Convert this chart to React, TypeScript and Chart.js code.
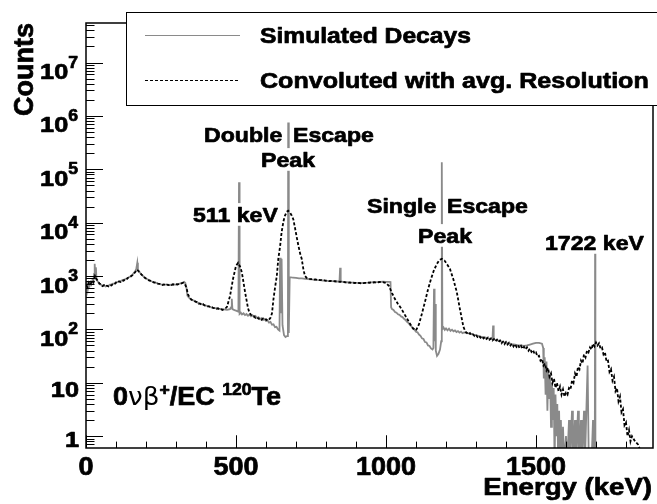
import React, { useEffect, useRef } from "react";
import { Chart, registerables } from "chart.js";

Chart.register(...registerables);

// ---- data (energy keV, counts) ----
const simulatedDecays: [number, number][] = [
  [0, 620], [3, 780], [6, 560], [9, 720], [12, 650], [15, 760], [18, 700], [21, 820], [24, 760],
  [27, 1100], [29, 1700], [31, 900], [33, 1450], [35, 850], [40, 780], [45, 700], [50, 690],
  [55, 650], [60, 670], [65, 640], [70, 655], [75, 660], [80, 690], [85, 700], [90, 720],
  [95, 730], [100, 760], [105, 770], [110, 790], [115, 800], [120, 830], [125, 850], [130, 870],
  [135, 900], [140, 930], [145, 960], [150, 1000], [155, 1060], [160, 1150], [165, 1250],
  [168, 1400], [171, 1770], [173, 1300], [176, 1250], [180, 1150], [185, 1070], [190, 1000],
  [195, 950], [200, 900], [210, 840], [220, 790], [230, 760], [240, 720], [250, 700], [260, 690],
  [270, 690], [280, 680], [290, 700], [300, 690], [310, 710], [320, 740], [327, 780], [331, 740],
  [335, 600], [338, 430], [342, 400], [350, 360], [360, 345], [370, 320], [380, 305], [390, 290],
  [400, 280], [410, 270], [420, 255], [430, 250], [440, 245], [450, 240], [460, 238], [470, 232],
  [480, 240], [484, 260], [486, 375], [488, 240], [495, 230], [500, 225], [508, 215],
  [510, 57000], [512, 195], [516, 205], [520, 190], [525, 200], [530, 185], [535, 194],
  [540, 180], [545, 190], [550, 176], [555, 184], [560, 170], [565, 178], [570, 164], [575, 170],
  [580, 156], [585, 162], [590, 150], [595, 156], [600, 144], [605, 148], [610, 134], [615, 138],
  [620, 122], [625, 124], [630, 110], [635, 112], [640, 100],
  [645, 95], [647, 2200], [649, 200], [652, 2100], [655, 120], [660, 78], [665, 72], [670, 75],
  [673, 80], [674, 750000], [676, 86], [679, 950], [685, 940], [690, 935], [700, 925], [710, 905],
  [720, 900], [730, 885], [740, 880], [750, 865], [760, 860], [770, 845], [780, 840], [790, 825],
  [800, 820], [810, 805], [820, 800], [830, 795], [840, 790], [845, 800], [847, 1430], [849, 790],
  [860, 770], [870, 765], [880, 755], [890, 750], [900, 745], [910, 740], [920, 740], [930, 745],
  [940, 750], [950, 760], [960, 765], [970, 770], [980, 780], [990, 785], [1000, 780],
  [1010, 775], [1015, 770], [1017, 260], [1020, 240], [1025, 232], [1030, 212], [1035, 206],
  [1040, 192], [1045, 188], [1050, 175], [1055, 170], [1060, 158], [1065, 150], [1070, 138],
  [1075, 132], [1080, 120], [1085, 114], [1090, 103], [1095, 99], [1100, 90], [1105, 88],
  [1110, 80], [1115, 76], [1120, 68], [1125, 66], [1130, 58], [1135, 57], [1140, 50], [1145, 49],
  [1150, 44], [1155, 42], [1158, 45], [1160, 575], [1162, 60],
  [1164, 300], [1166, 40], [1170, 32], [1175, 35], [1180, 42], [1184, 60], [1186, 136000],
  [1188, 100], [1192, 108], [1196, 98], [1200, 104], [1205, 96], [1210, 103], [1215, 94],
  [1220, 99], [1225, 92], [1230, 96], [1235, 89], [1240, 93], [1245, 87], [1250, 91], [1255, 85],
  [1260, 88], [1270, 85], [1280, 83], [1290, 80], [1300, 78], [1310, 75], [1320, 72],
  [1330, 71], [1340, 68], [1350, 66], [1355, 66], [1357, 118], [1359, 65], [1370, 62], [1380, 60],
  [1390, 58], [1400, 56], [1410, 55], [1420, 53], [1430, 52], [1440, 50], [1450, 50], [1460, 49],
  [1470, 50], [1480, 52], [1490, 54], [1500, 56], [1510, 56], [1520, 54], [1524, 45], [1526, 12],
  [1529, 30], [1532, 6], [1535, 25], [1538, 3], [1541, 18], [1544, 5], [1547, 14], [1550, 1.5],
  [1553, 10], [1556, 2], [1559, 8], [1562, 0.3], [1565, 6], [1568, 1], [1571, 4], [1574, 0.3],
  [1577, 3], [1580, 0.3], [1583, 2], [1586, 0.3], [1590, 1.5], [1594, 0.3], [1600, 1],
  [1604, 0.3], [1610, 2], [1613, 0.3], [1620, 3], [1623, 0.3], [1630, 2], [1633, 0.3],
  [1640, 3], [1643, 0.3], [1650, 2], [1653, 0.3], [1660, 3], [1663, 0.3], [1672, 21],
  [1676, 0.3], [1685, 0.3], [1690, 2], [1693, 0.3], [1696, 0.3], [1697, 5000], [1698, 0.3],
  [1890, 0.3],
];

const convolutedDecays: [number, number][] = [
  [0, 680], [5, 620], [10, 760], [15, 700], [20, 820], [25, 760], [30, 1000], [35, 880],
  [40, 800], [45, 720], [50, 700], [55, 650], [60, 675], [65, 640], [70, 660], [75, 640],
  [80, 680], [85, 665], [90, 710], [95, 700], [100, 755], [105, 740], [110, 790], [115, 775],
  [120, 830], [125, 815], [130, 870], [135, 860], [140, 930], [145, 940], [150, 990], [155, 1040],
  [160, 1120], [165, 1200], [170, 1320], [175, 1230], [180, 1160], [185, 1060], [190, 1010],
  [195, 940], [200, 900], [205, 870], [210, 830], [215, 815], [220, 800], [225, 760], [230, 750],
  [235, 730], [240, 720], [245, 715], [250, 705], [255, 680], [260, 695], [265, 670], [270, 690],
  [275, 675], [280, 695], [285, 680], [290, 700], [295, 690], [300, 705], [305, 695], [310, 715],
  [315, 720], [320, 735], [325, 745], [330, 700], [335, 600], [340, 450], [345, 400], [350, 370],
  [355, 350], [360, 345], [365, 330], [370, 325], [375, 305], [380, 305], [385, 290], [390, 298],
  [395, 282], [400, 278], [405, 270], [410, 270], [415, 258], [420, 260], [425, 250], [430, 253],
  [435, 244], [440, 248], [445, 236], [450, 240], [455, 232], [460, 242], [465, 248], [470, 265],
  [480, 420], [490, 880], [500, 1550], [507, 1770], [515, 1450], [520, 1130], [530, 510],
  [540, 250], [545, 205], [550, 188], [555, 175], [560, 176], [565, 165], [570, 170], [575, 158],
  [580, 162], [585, 152], [590, 160], [595, 150], [600, 155], [605, 146], [610, 152], [615, 165],
  [620, 200], [625, 375], [630, 600], [636, 1000], [641, 2100], [647, 3600],
  [652, 6600], [658, 10500], [663, 13400], [669, 16000], [674, 16700], [680, 15500],
  [686, 13500], [691, 11600], [697, 7800], [702, 5500], [708, 3700], [714, 2600], [719, 2100],
  [725, 1300], [730, 1000], [735, 930], [740, 900], [745, 885], [750, 872], [755, 880],
  [760, 855], [765, 862], [770, 848], [775, 852], [780, 835], [785, 840], [790, 828], [795, 832],
  [800, 815], [805, 822], [810, 806], [815, 812], [820, 795], [825, 805], [830, 798], [835, 790],
  [840, 786], [845, 778], [850, 782], [855, 768], [860, 772], [865, 758], [870, 762], [875, 752],
  [880, 760], [885, 745], [890, 752], [895, 740], [900, 745], [905, 735], [910, 742], [915, 732],
  [920, 740], [925, 736], [930, 745], [935, 740], [940, 750], [945, 748], [950, 757], [955, 752],
  [960, 764], [965, 758], [970, 770], [975, 765], [980, 776], [985, 768], [990, 770], [995, 755],
  [1000, 740], [1010, 650], [1020, 480], [1030, 370], [1040, 300], [1050, 250], [1060, 200],
  [1070, 160], [1080, 127], [1090, 105], [1100, 96], [1110, 125], [1120, 200], [1130, 330],
  [1140, 560], [1150, 880], [1160, 1300], [1170, 1700], [1178, 2000], [1186, 2100], [1195, 1950],
  [1204, 1650], [1213, 1370], [1225, 850], [1236, 500], [1247, 230], [1258, 112], [1265, 90],
  [1270, 86], [1275, 80], [1280, 85], [1285, 78], [1290, 81], [1295, 75], [1300, 79], [1305, 72],
  [1310, 76], [1315, 70], [1320, 74], [1325, 68], [1330, 72], [1335, 66], [1340, 70], [1345, 64],
  [1350, 68], [1355, 62], [1360, 66], [1365, 60], [1370, 64], [1375, 58], [1380, 62], [1385, 55],
  [1390, 59], [1395, 53], [1400, 58], [1405, 52], [1410, 56], [1415, 50], [1420, 54], [1425, 48],
  [1430, 53], [1435, 47], [1440, 51], [1445, 45], [1450, 49], [1455, 43], [1460, 47], [1465, 42],
  [1470, 46], [1475, 40], [1480, 44], [1485, 38], [1490, 41], [1495, 35], [1500, 37], [1505, 31],
  [1510, 32], [1515, 26], [1520, 28], [1525, 21], [1530, 23], [1535, 17], [1540, 19], [1545, 13],
  [1550, 15], [1555, 10], [1560, 12], [1565, 8], [1570, 10], [1575, 7], [1580, 8.5], [1585, 6],
  [1590, 7.5], [1595, 5.5], [1600, 6.5], [1605, 6], [1610, 8], [1615, 7.5], [1620, 11],
  [1625, 10], [1630, 15], [1635, 13], [1640, 20], [1645, 18], [1650, 26], [1655, 23], [1660, 34],
  [1665, 30], [1670, 40], [1675, 37], [1680, 46], [1685, 42], [1690, 54], [1695, 48], [1700, 57],
  [1705, 50], [1710, 55], [1715, 44], [1720, 46], [1725, 34], [1730, 37], [1735, 25], [1740, 26],
  [1745, 16], [1750, 18], [1755, 11], [1760, 13], [1765, 7], [1770, 8], [1775, 4.5], [1780, 5.5],
  [1785, 2.8], [1790, 3.2], [1795, 1.6], [1800, 1.8], [1805, 1.0], [1810, 1.3], [1815, 0.8],
  [1820, 1.0], [1830, 0.8], [1840, 0.7], [1850, 0.5],
];

const legendLabels = ["Simulated Decays", "Convoluted with avg. Resolution"];
const xTickLabels = [0, 500, 1000, 1500];
const xMinorTicks = [100, 200, 300, 400, 600, 700, 800, 900, 1100, 1200, 1300, 1400, 1600, 1700, 1800];
const yTickExponents = [0, 1, 2, 3, 4, 5, 6, 7];
const xTitle = "Energy (keV)";
const yTitle = "Counts";
const xRange = [0, 1890];
const yRange = [0.64, 5.5e7];

const FONT = '"Liberation Sans", Arial, Helvetica, sans-serif';
const GRAY = "#8a8a8a";

function drawText(
  ctx: CanvasRenderingContext2D,
  s: string,
  x: number,
  y: number,
  size: number,
  align: "left" | "right" | "center" = "left",
  sx = 1.1,
  weight = "bold",
  family = FONT,
  bg = false
): number {
  ctx.save();
  ctx.font = `${weight} ${size}px ${family}`;
  ctx.textBaseline = "alphabetic";
  ctx.textAlign = "left";
  const w = ctx.measureText(s).width * sx;
  const x0 = align === "left" ? x : align === "right" ? x - w : x - w / 2;
  if (bg) {
    ctx.fillStyle = "#fff";
    ctx.fillRect(x0 - 1, y - size * 0.9, w + 2, size * 1.08);
  }
  ctx.translate(x0, y);
  ctx.scale(sx, 1);
  ctx.fillStyle = "#000";
  ctx.fillText(s, 0, 0);
  if (weight === "bold") {
    ctx.strokeStyle = "#000";
    ctx.lineWidth = 0.7;
    ctx.lineJoin = "round";
    ctx.strokeText(s, 0, 0);
  }
  ctx.restore();
  return w;
}

const decor = {
  id: "rootDecor",
  afterDraw(chart: any) {
    const ctx: CanvasRenderingContext2D = chart.ctx;
    const { left, right, top, bottom } = chart.chartArea;
    const xs = chart.scales.x;
    const ys = chart.scales.y;
    ctx.save();
    ctx.strokeStyle = "#000";
    ctx.lineWidth = 1.5;
    ctx.strokeRect(left, top, right - left, bottom - top);

    // x ticks (inward)
    ctx.lineWidth = 1;
    ctx.beginPath();
    for (const v of xTickLabels) {
      const px = Math.round(xs.getPixelForValue(v)) + 0.5;
      ctx.moveTo(px, bottom);
      ctx.lineTo(px, bottom - 12.75);
    }
    for (const v of xMinorTicks) {
      const px = Math.round(xs.getPixelForValue(v)) + 0.5;
      ctx.moveTo(px, bottom);
      ctx.lineTo(px, bottom - 6.4);
    }
    // y ticks
    for (const e of [-1, ...yTickExponents]) {
      for (let m = 1; m <= 9; m++) {
        const v = m * Math.pow(10, e);
        if (v < yRange[0] || v > yRange[1]) continue;
        const py = Math.round(ys.getPixelForValue(v)) + 0.5;
        ctx.moveTo(left, py);
        ctx.lineTo(left + (m === 1 ? 17 : 8.5), py);
      }
    }
    ctx.stroke();

    // x labels
    for (const v of xTickLabels) {
      drawText(ctx, String(v), xs.getPixelForValue(v), 475, 25, "center", 1.08);
    }
    // y labels
    for (const e of yTickExponents) {
      const py = ys.getPixelForValue(Math.pow(10, e));
      if (e === 0) drawText(ctx, "1", 79, py + 11, 22, "right", 1.15);
      else if (e === 1) drawText(ctx, "10", 79, py + 14, 22, "right", 1.15);
      else {
        const w = drawText(ctx, String(e), 78, py + 5, 16, "right", 1.1);
        drawText(ctx, "10", 78 - w, py + 16.5, 22, "right", 1.15);
      }
    }
    // axis titles
    drawText(ctx, xTitle, 652, 495, 24, "right", 1.15);
    ctx.save();
    ctx.translate(33, 23);
    ctx.rotate(-Math.PI / 2);
    ctx.font = `bold 27px ${FONT}`;
    ctx.textAlign = "right";
    ctx.fillStyle = "#000";
    ctx.fillText(yTitle, 0, 0);
    ctx.strokeStyle = "#000";
    ctx.lineWidth = 0.7;
    ctx.strokeText(yTitle, 0, 0);
    ctx.restore();

    // annotations
    drawText(ctx, "511 keV", 193, 222, 21, "left", 1.1, "bold", FONT, true);
    drawText(ctx, "Double", 204, 142, 21, "left", 1.1, "bold", FONT, true);
    drawText(ctx, "Escape", 293, 142, 21, "left", 1.1, "bold", FONT, true);
    drawText(ctx, "Peak", 288, 167, 21, "center", 1.1, "bold", FONT, true);
    drawText(ctx, "Single", 367, 213, 21, "left", 1.1, "bold", FONT, true);
    drawText(ctx, "Escape", 447, 213, 21, "left", 1.1, "bold", FONT, true);
    drawText(ctx, "Peak", 445, 243, 21, "center", 1.1, "bold", FONT, true);
    drawText(ctx, "1722 keV", 545, 250, 21, "left", 1.1, "bold", FONT, true);

    // process label
    let cx = 113;
    const by = 405;
    cx += drawText(ctx, "0", cx, by, 25, "left", 1.08);
    cx += drawText(ctx, "νβ", cx, by, 25, "left", 1.05, "normal", '"DejaVu Sans", sans-serif');
    cx += drawText(ctx, "+", cx, by - 10, 16, "left", 1.1);
    cx += drawText(ctx, "/EC ", cx, by, 25, "left", 1.08);
    cx += drawText(ctx, "120", cx, by - 10, 16, "left", 1.1);
    drawText(ctx, "Te", cx, by, 25, "left", 1.08);

    // legend
    ctx.fillStyle = "#fff";
    ctx.fillRect(126, 12, 540, 93);
    ctx.strokeStyle = "#000";
    ctx.lineWidth = 1;
    ctx.strokeRect(126.5, 12.5, 540, 93);
    ctx.beginPath();
    ctx.strokeStyle = GRAY;
    ctx.moveTo(145, 35.5);
    ctx.lineTo(240, 35.5);
    ctx.stroke();
    ctx.beginPath();
    ctx.strokeStyle = "#000";
    ctx.setLineDash([3, 2]);
    ctx.moveTo(145, 80.5);
    ctx.lineTo(240, 80.5);
    ctx.stroke();
    ctx.setLineDash([]);
    drawText(ctx, legendLabels[0], 260, 43, 22, "left", 1.12);
    drawText(ctx, legendLabels[1], 260, 88, 22, "left", 1.14);
    ctx.restore();
  },
};

export default function App() {
  const ref = useRef<HTMLCanvasElement>(null);
  useEffect(() => {
    document.body.style.margin = "0";
    const chart = new Chart(ref.current as HTMLCanvasElement, {
      type: "line",
      data: {
        datasets: [
          {
            label: legendLabels[1],
            data: convolutedDecays.map(([x, y]) => ({ x, y })),
            borderColor: "#000",
            borderWidth: 1.8,
            borderDash: [3, 2],
            pointRadius: 0,
            fill: false,
            tension: 0,
            order: 0,
          },
          {
            label: legendLabels[0],
            data: simulatedDecays.map(([x, y]) => ({ x, y })),
            borderColor: GRAY,
            borderWidth: 1.8,
            pointRadius: 0,
            fill: false,
            tension: 0,
            order: 1,
          },
        ],
      },
      options: {
        animation: false,
        responsive: true,
        maintainAspectRatio: false,
        events: [],
        layout: { padding: { left: 86, right: 4, top: 23, bottom: 56 } },
        plugins: { legend: { display: false }, tooltip: { enabled: false } },
        scales: {
          x: { type: "linear", min: xRange[0], max: xRange[1], display: false },
          y: { type: "logarithmic", min: yRange[0], max: yRange[1], display: false },
        },
      },
      plugins: [decor],
    } as any);
    return () => chart.destroy();
  }, []);
  return (
    <div style={{ position: "fixed", left: 0, top: 0, width: 657, height: 504, background: "#fff" }}>
      <canvas ref={ref} />
    </div>
  );
}
